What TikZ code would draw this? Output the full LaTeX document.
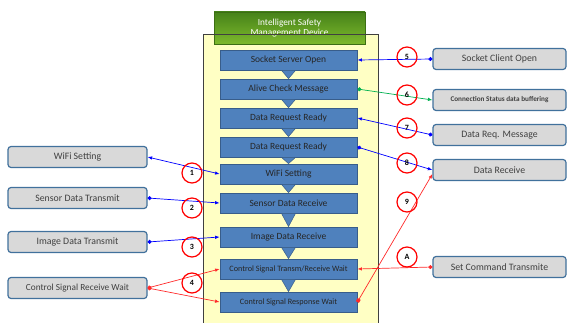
\documentclass[tikz,border=0pt]{standalone}
\usepackage{fontspec}
\setmainfont{Carlito}
\usetikzlibrary{arrows.meta}
\definecolor{boxblue}{HTML}{4F81BD}
\definecolor{boxedge}{HTML}{385D8A}
\definecolor{greyedge}{HTML}{41719C}
\definecolor{paleyellow}{HTML}{FFFFC4}
\definecolor{linkgreen}{HTML}{00B050}
\definecolor{linkred}{HTML}{FF2A2A}

\begin{document}
\begin{tikzpicture}[x=1pt,y=-1pt,
        state/.style={draw=boxedge,fill=boxblue,line width=.8pt,minimum width=137pt,minimum height=20pt,inner sep=0pt,font=\fontsize{9.5}{10}\selectfont,text=black!85},
        peer/.style={draw=greyedge,fill=black!15,line width=1.2pt,rounded corners=3pt,minimum width=139pt,minimum height=21pt,inner sep=0pt,font=\fontsize{9.8}{10}\selectfont,text=black!75},
        numring/.style={circle,draw=red,line width=1.2pt,minimum size=20pt,inner sep=0pt,font=\fontsize{8}{9}\selectfont\bfseries},
        flowtri/.style={fill=boxblue,draw=boxedge,line width=.5pt},
        link/.style={line width=.7pt},
        dotlink/.style={link,{Circle[length=4pt]}-{Latex[length=4.5pt,width=3.5pt]}},
        sqlink/.style={link,{Square[length=3.5pt]}-{Latex[length=4.5pt,width=3.5pt]}},
        bothlink/.style={link,{Latex[length=4.5pt,width=3.5pt]}-{Latex[length=4.5pt,width=3.5pt]}}]
        \useasboundingbox (0,0) rectangle (569,323);
        \fill[paleyellow] (203,34) rectangle (378,323);
        \node[minimum width=151pt,minimum height=32pt,inner sep=0pt,top color={rgb,255:red,70;green,130;blue,25},bottom color={rgb,255:red,125;green,185;blue,45},draw={rgb,255:red,60;green,110;blue,20},line width=.6pt,text=white,align=center,font=\fontsize{9.3}{10.5}\selectfont] (hdr) at (289.5,28) {Intelligent Safety\\Management Device};
        \draw[black!75,line width=.6pt] (203,323) -- (203,34) -- (378,34) -- (378,323);

        \node[state] (sso) at (288.5,60) {Socket Server Open};
        \node[state] (acm) at (288.5,89) {Alive Check Message};
        \node[state] (drr1) at (288.5,118) {Data Request Ready};
        \node[state] (drr2) at (288.5,147) {Data Request Ready};
        \node[state] (wfs) at (288.5,174) {WiFi Setting};
        \node[state] (sdr) at (288.5,203) {Sensor Data Receive};
        \node[state] (idr) at (288.5,237) {Image Data Receive};
        \node[state,font=\fontsize{8.2}{9}\selectfont] (cst) at (288.5,269) {Control Signal Transm/Receive Wait};
        \node[state,font=\fontsize{8.2}{9}\selectfont] (csr) at (288.5,302) {Control Signal Response Wait};
        \foreach \a/\b in {sso/acm,acm/drr1,drr1/drr2,drr2/wfs,wfs/sdr,sdr/idr,idr/cst,cst/csr}
            \filldraw[flowtri] ([xshift=-7pt]\a.south) -- ([xshift=7pt]\a.south) -- (\b.north) -- cycle;

        \node[peer] (lwifi) at (77.5,157) {WiFi Setting};
        \node[peer] (lsensor) at (77.5,198) {Sensor Data Transmit};
        \node[peer] (limage) at (77.5,242) {Image Data Transmit};
        \node[peer,font=\fontsize{9.3}{10}\selectfont] (lcontrol) at (77.5,288) {Control Signal Receive Wait};

        \node[peer,minimum width=133pt] (rclient) at (499.5,59) {Socket Client Open};
        \node[peer,minimum width=133pt,font=\fontsize{7.2}{8}\selectfont\bfseries] (rconn) at (499.5,100) {Connection Status data buffering};
        \node[peer,minimum width=133pt] (rreq) at (499.5,135) {Data Req. Message};
        \node[peer,minimum width=133pt] (rrecv) at (499.5,170) {Data Receive};
        \node[peer,minimum width=133pt] (rcmd) at (499.5,267) {Set Command Transmite};

        \draw[dotlink,blue] (rclient.west) -- (sso.east);
        \draw[dotlink,linkgreen] (acm.east) -- (rconn.west);
        \draw[dotlink,blue] (rreq.west) -- (drr1.east);
        \draw[dotlink,blue] (drr2.east) -- (rrecv.west);
        \draw[sqlink,linkred] (csr.east) -- ([yshift=-4pt]rrecv.west);
        \draw[dotlink,linkred] (rcmd.west) -- (cst.east);
        \draw[bothlink,blue] (wfs.west) -- (lwifi.east);
        \draw[dotlink,blue] (lsensor.east) -- (sdr.west);
        \draw[dotlink,blue] (limage.east) -- (idr.west);
        \draw[dotlink,linkred] (lcontrol.east) -- (cst.west);
        \draw[dotlink,linkred] (lcontrol.east) -- (csr.west);

        \foreach \n/\x/\y in {1/192/173,2/192/208,3/192/247,4/192/283,5/407/57,6/407/95,7/407/128,8/407/163,9/407/202,A/407/257}
            \node[numring] (n\n) at (\x,\y) {\n};
\end{tikzpicture}
\end{document}
